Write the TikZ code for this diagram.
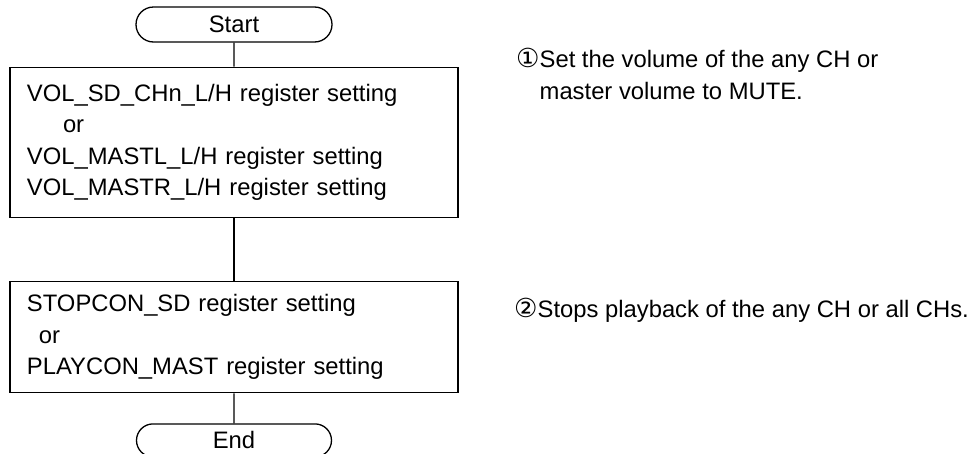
\documentclass[tikz,border=0pt]{standalone}
\usepackage{fontspec}
\setmainfont{Liberation Sans}
\newfontfamily\circfont[Scale=1.1]{DejaVu Sans}
\usetikzlibrary{positioning,shapes.misc}

\begin{document}
\begin{tikzpicture}[
    x=1pt, y=-1pt,
    node distance=24pt,
    every node/.style={font=\fontsize{23.8}{31.3}\selectfont},
    terminal/.style={draw, rounded rectangle, line width=1.3pt, minimum width=196pt, minimum height=35pt, inner sep=0pt},
    block/.style={draw, rectangle, line width=1.3pt, minimum width=448pt, text width=414pt, inner xsep=17pt, inner ysep=0pt, align=left},
    note/.style={anchor=base west, align=left, inner sep=0pt},
    line/.style={line width=1.3pt}
]
\useasboundingbox (0,0) rectangle (971,453);

% Flow
\node[terminal] (start) at (234,24.5) {Start};
\node[block, minimum height=150pt, below=24pt of start] (volset) {VOL\_SD\_CHn\_L/H register setting\\
\hspace*{36pt}or\\
VOL\_MASTL\_L/H register setting\\
VOL\_MASTR\_L/H register setting};
\node[block, minimum height=111pt, below=63pt of volset] (stopset) {STOPCON\_SD register setting\\
\hspace*{12pt}or\\
PLAYCON\_MAST register setting};
\node[terminal, minimum width=195pt, minimum height=33pt, below=30pt of stopset] (end) {End};

\draw[line] (start) -- (volset);
\draw[line] (volset) -- (stopset);
\draw[line] (stopset) -- (end);

% Notes
\node[note] (note1) at (516,99) {{\circfont ①}Set the volume of the any CH or\\
\phantom{\circfont ①}master volume to MUTE.};
\node[note] (note2) at (514,317) {{\circfont ②}Stops playback of the any CH or all CHs.};

\end{tikzpicture}
\end{document}
